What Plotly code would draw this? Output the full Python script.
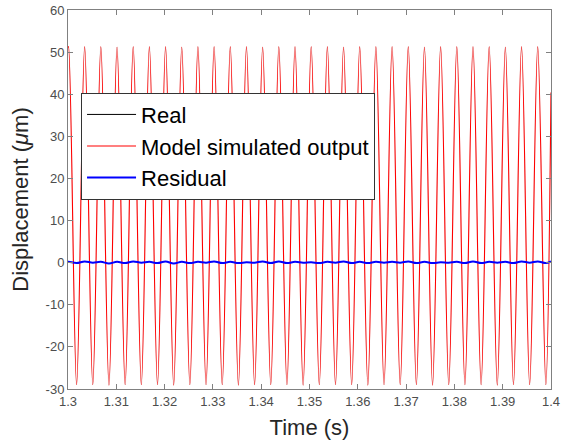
import plotly.graph_objects as go

# ---- data ----
peak_times = [1.30010, 1.30345, 1.30680, 1.31015, 1.31350, 1.31685, 1.32020, 1.32355,
              1.32690, 1.33025, 1.33360, 1.33695, 1.34030, 1.34365, 1.34700, 1.35035,
              1.35370, 1.35705, 1.36040, 1.36375, 1.36710, 1.37045, 1.37380, 1.37715,
              1.38050, 1.38385, 1.38720, 1.39055, 1.39390, 1.39725]
trough_times = [1.30178, 1.30513, 1.30848, 1.31183, 1.31518, 1.31853, 1.32188, 1.32523,
                1.32858, 1.33193, 1.33528, 1.33863, 1.34198, 1.34533, 1.34868, 1.35203,
                1.35538, 1.35873, 1.36208, 1.36543, 1.36878, 1.37213, 1.37548, 1.37883,
                1.38218, 1.38553, 1.38888, 1.39223, 1.39558, 1.39893]
model_peaks = [51.3, 51.3, 51.3, 51.2, 51.3, 51.3, 51.3, 51.2, 51.3, 51.3,
               51.3, 51.3, 51.2, 51.3, 51.3, 51.3, 51.3, 51.2, 51.3, 51.3,
               51.3, 51.3, 51.2, 51.3, 51.3, 51.3, 51.3, 51.2, 51.3, 51.3]
model_troughs = [-29.0, -29.0, -29.1, -29.0, -29.0, -29.0, -29.1, -29.0, -29.0, -29.0,
                 -29.1, -29.0, -29.0, -29.0, -29.1, -29.0, -29.0, -29.0, -29.1, -29.0,
                 -29.0, -29.0, -29.1, -29.0, -29.0, -29.0, -29.1, -29.0, -29.0, -29.0]
real_peaks = [51.3, 51.3, 51.3, 51.2, 51.3, 51.3, 51.3, 51.2, 51.3, 51.3,
              51.3, 51.3, 51.2, 51.3, 51.3, 51.3, 51.3, 51.2, 51.3, 51.3,
              51.3, 51.3, 51.2, 51.3, 51.3, 51.3, 51.3, 51.2, 51.3, 51.3]
real_troughs = [-29.0, -29.0, -29.1, -29.0, -29.0, -29.0, -29.1, -29.0, -29.0, -29.0,
                -29.1, -29.0, -29.0, -29.0, -29.1, -29.0, -29.0, -29.0, -29.1, -29.0,
                -29.0, -29.0, -29.1, -29.0, -29.0, -29.0, -29.1, -29.0, -29.0, -29.0]
resid_peaks = [0.2, 0.3, 0.2, 0.2, 0.3, 0.2, 0.3, 0.2, 0.2, 0.3,
               0.2, 0.1, 0.3, 0.3, 0.2, 0.1, 0.2, 0.3, 0.2, 0.2,
               0.2, 0.3, 0.2, 0.1, 0.2, 0.3, 0.2, 0.2, 0.3, 0.3]
resid_troughs = [-0.1, 0.0, -0.2, -0.1, 0.0, -0.1, -0.2, -0.1, 0.0, -0.1,
                 -0.1, 0.0, -0.1, -0.1, 0.0, -0.1, 0.0, -0.1, -0.1, 0.0,
                 0.0, -0.1, -0.1, 0.0, -0.1, -0.1, 0.0, -0.1, 0.0, -0.1]
start_time, end_time = 1.30, 1.40
model_start, model_end = 51.1, 40.4
real_start, real_end = 51.1, 40.4
resid_start, resid_end = 0.1, 0.3

x_ticks = [1.30, 1.31, 1.32, 1.33, 1.34, 1.35, 1.36, 1.37, 1.38, 1.39, 1.40]
x_labels = ["1.3", "1.31", "1.32", "1.33", "1.34", "1.35", "1.36", "1.37", "1.38", "1.39", "1.4"]
y_ticks = [-30, -20, -10, 0, 10, 20, 30, 40, 50, 60]
y_labels = ["-30", "-20", "-10", "0", "10", "20", "30", "40", "50", "60"]


def merge(start_v, pk, tr, end_v):
    pts = [(start_time, start_v)]
    pts += list(zip(peak_times, pk)) + list(zip(trough_times, tr))
    pts.append((end_time, end_v))
    pts.sort()
    return [p[0] for p in pts], [p[1] for p in pts]


t_real, y_real = merge(real_start, real_peaks, real_troughs, real_end)
t_model, y_model = merge(model_start, model_peaks, model_troughs, model_end)
t_res, y_res = merge(resid_start, resid_peaks, resid_troughs, resid_end)

FONT = "Liberation Sans, Arial, Helvetica, sans-serif"

fig = go.Figure()
# Real signal: drawn beneath the model output (hidden by it, as in the reference)
fig.add_trace(go.Scatter(x=t_real, y=y_real, mode="lines", name="Real", legendgroup="real",
                         showlegend=False, hoverinfo="skip",
                         line=dict(color="black", width=0.1, shape="spline", smoothing=1.0)))
# legend entry for Real
fig.add_trace(go.Scatter(x=[None], y=[None], mode="lines", name="Real", legendgroup="real",
                         line=dict(color="black", width=1)))
fig.add_trace(go.Scatter(x=t_model, y=y_model, mode="lines", name="Model simulated output",
                         line=dict(color="#ff0000", width=1.1, shape="spline", smoothing=1.0)))
fig.add_trace(go.Scatter(x=t_res, y=y_res, mode="lines", name="Residual",
                         line=dict(color="blue", width=2, shape="spline", smoothing=1.0)))

axis_common = dict(
    showgrid=False, zeroline=False, showline=True, linecolor="#808080", linewidth=1,
    mirror="ticks", ticks="inside", ticklen=5, tickcolor="#808080", automargin=False,
    tickfont=dict(family=FONT, size=13, color="#4d4d4d"),
)

fig.update_layout(
    width=567, height=446,
    margin=dict(l=68, r=16, t=10, b=57, autoexpand=False),
    paper_bgcolor="white", plot_bgcolor="white",
    font=dict(family=FONT),
    xaxis=dict(range=[1.3, 1.4], tickmode="array", tickvals=x_ticks, ticktext=x_labels,
               title=dict(text="Time (s)", font=dict(family=FONT, size=22, color="#262626"),
                          standoff=12),
               **axis_common),
    yaxis=dict(range=[-30, 60], tickmode="array", tickvals=y_ticks, ticktext=y_labels,
               title=dict(text="Displacement (<i>μ</i>m)", font=dict(family=FONT, size=22, color="#262626"),
                          standoff=10),
               **axis_common),
    legend=dict(x=0.027, y=0.782, xanchor="left", yanchor="top",
                bgcolor="white", bordercolor="#333333", borderwidth=1,
                font=dict(family=FONT, size=22, color="black"),
                itemwidth=49, tracegroupgap=0),
    showlegend=True,
)

fig.write_html("out.html", config={"displayModeBar": False},
               post_script="document.body.style.margin='0';")
